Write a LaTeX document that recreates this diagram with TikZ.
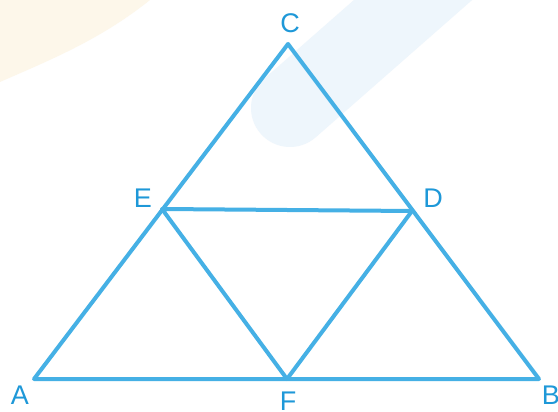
\documentclass[tikz,border=0pt]{standalone}
\usepackage{fontspec}
\setmainfont{Liberation Sans}
\definecolor{lineblue}{HTML}{45B0E5}
\definecolor{textblue}{HTML}{1E98D8}
\definecolor{wmorange}{HTML}{FDF7EA}
\definecolor{wmblue}{HTML}{EEF6FC}
\begin{document}
\begin{tikzpicture}[x=1pt,y=-1pt,
  edge/.style={draw=lineblue,line width=4pt,line join=round,line cap=round},
  lbl/.style={text=textblue,font=\fontsize{27}{27}\selectfont,inner sep=0pt}]
\useasboundingbox (0,0) rectangle (558,412);
\fill[white] (0,0) rectangle (558,412);
% faint watermark shapes
\fill[wmorange] (0,0) -- (150,0) .. controls (100,40) and (50,60) .. (0,82) -- cycle;
\draw[wmblue,line width=78pt,line cap=round] (290,108) -- (470,-50);
% vertices
\coordinate (A) at (34,379);
\coordinate (B) at (539,379);
\coordinate (C) at (288,44);
\coordinate (D) at (412,211);
\coordinate (E) at (162,209);
\coordinate (F) at (287,379);
% edges
\draw[edge] (A) -- (B) -- (C) -- cycle;
\draw[edge] (E) -- (D) -- (F) -- cycle;
% labels
\node[lbl] (lA) at (20,395) {A};
\node[lbl] (lB) at (551,395) {B};
\node[lbl] (lC) at (290,23) {C};
\node[lbl] (lD) at (433,198) {D};
\node[lbl] (lE) at (143,198) {E};
\node[lbl] (lF) at (288,401) {F};
\end{tikzpicture}
\end{document}
